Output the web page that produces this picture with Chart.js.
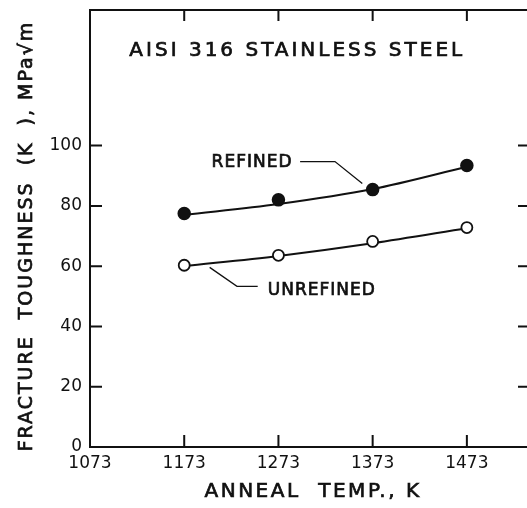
<!DOCTYPE html>
<html>
<head>
<meta charset="utf-8">
<script src="https://cdn.jsdelivr.net/npm/chart.js@4"></script>
<style>
  html, body { margin: 0; padding: 0; background: #fff; overflow: hidden; }
  #wrap { width: 545px; height: 508px; }
</style>
</head>
<body>
<div id="wrap"><canvas id="myChart" width="545" height="508"></canvas></div>
<script>
// anneal temperatures (K)
const temps = [1173, 1273, 1373, 1473];
// measured toughness, MPa√m
const refined = [77.5, 82, 85.4, 93.4];
const unrefined = [60.3, 63.6, 68.2, 72.8];
// smooth fitted curves through the data
const refinedFit = [77, 80.6, 85.6, 93];
const unrefinedFit = [60, 63.4, 67.6, 72.6];
// axis ticks
const xTicks = [1073, 1173, 1273, 1373, 1473];
const yTicks = [0, 20, 40, 60, 80, 100];
const yInner = [20, 40, 60, 80, 100];

const FONT = "'DejaVu Sans', sans-serif";

const toXY = (xs, ys) => xs.map((x, i) => ({ x: x, y: ys[i] }));

// lettering with a slightly heavier pen
function letter(ctx, text, x, y) {
  ctx.fillText(text, x, y);
  ctx.strokeText(text, x, y);
}

// frame, inward ticks, labels and leader lines
const decor = {
  id: 'decor',
  afterDraw(chart) {
    const ctx = chart.ctx;
    const a = chart.chartArea;
    const sx = chart.scales.x, sy = chart.scales.y;
    const px = v => sx.getPixelForValue(v);
    const py = v => sy.getPixelForValue(v);
    ctx.save();
    ctx.strokeStyle = '#111';
    ctx.lineWidth = 2;
    ctx.strokeRect(a.left, a.top, a.right - a.left, a.bottom - a.top);

    ctx.beginPath();
    yInner.forEach(v => {
      ctx.moveTo(a.left, py(v)); ctx.lineTo(a.left + 12, py(v));
      ctx.moveTo(a.right, py(v)); ctx.lineTo(a.right - 12, py(v));
    });
    xTicks.slice(1).forEach(v => {
      ctx.moveTo(px(v), a.bottom); ctx.lineTo(px(v), a.bottom - 12);
      ctx.moveTo(px(v), a.top); ctx.lineTo(px(v), a.top + 11);
    });
    ctx.stroke();

    // leader lines
    ctx.lineWidth = 1.3;
    ctx.beginPath();
    ctx.moveTo(px(1296), py(94.7)); ctx.lineTo(px(1333), py(94.7)); ctx.lineTo(px(1362), py(87.4));
    ctx.moveTo(px(1200), py(59.6)); ctx.lineTo(px(1229), py(53.3)); ctx.lineTo(px(1251), py(53.3));
    ctx.stroke();

    ctx.fillStyle = '#111';
    ctx.lineWidth = 0.7;
    ctx.textBaseline = 'middle';
    ctx.textAlign = 'center';
    ctx.letterSpacing = '3px';
    ctx.font = '20px ' + FONT;
    letter(ctx, 'AISI 316 STAINLESS STEEL', px(1293), py(131.5));
    ctx.letterSpacing = '1px';
    ctx.font = '17px ' + FONT;
    letter(ctx, 'REFINED', px(1245), py(94.4));
    letter(ctx, 'UNREFINED', px(1319), py(52));

    ctx.letterSpacing = '2.5px';
    ctx.font = '20px ' + FONT;
    letter(ctx, 'ANNEAL  TEMP., K', 313, 492);

    ctx.translate(27, 236);
    ctx.rotate(-Math.PI / 2);
    ctx.letterSpacing = '2px';
    ctx.font = '19px ' + FONT;
    letter(ctx, 'FRACTURE  TOUGHNESS  (K  ), MPa√m', 0, 0);
    ctx.restore();
  }
};

new Chart(document.getElementById('myChart').getContext('2d'), {
  type: 'line',
  data: {
    datasets: [
      {
        data: toXY(temps, refined),
        showLine: false,
        pointRadius: 6,
        pointBackgroundColor: '#111',
        pointBorderColor: '#111',
        pointBorderWidth: 1.5,
        order: 0
      },
      {
        data: toXY(temps, unrefined),
        showLine: false,
        pointRadius: 5.5,
        pointBackgroundColor: '#fff',
        pointBorderColor: '#111',
        pointBorderWidth: 1.8,
        order: 0
      },
      {
        data: toXY(temps, refinedFit),
        borderColor: '#111',
        borderWidth: 2,
        pointRadius: 0,
        cubicInterpolationMode: 'monotone',
        order: 1
      },
      {
        data: toXY(temps, unrefinedFit),
        borderColor: '#111',
        borderWidth: 2,
        pointRadius: 0,
        cubicInterpolationMode: 'monotone',
        order: 1
      }
    ]
  },
  options: {
    responsive: false,
    animation: false,
    layout: { padding: { top: 10, right: 15, left: 0, bottom: 0 } },
    plugins: { legend: { display: false }, tooltip: { enabled: false } },
    scales: {
      x: {
        type: 'linear',
        min: 1073,
        max: 1540,
        afterBuildTicks: s => { s.ticks = xTicks.map(v => ({ value: v })); },
        afterFit: s => { s.height = 61; s.paddingLeft = 0; s.paddingRight = 0; },
        grid: { display: false, drawTicks: false },
        border: { display: false },
        ticks: {
          padding: 6,
          color: '#111',
          font: { family: FONT, size: 17 },
          maxRotation: 0,
          autoSkip: false,
          callback: v => String(v)
        }
      },
      y: {
        min: 0,
        max: 145,
        afterBuildTicks: s => { s.ticks = yTicks.map(v => ({ value: v })); },
        afterFit: s => { s.width = 90; s.paddingTop = 0; s.paddingBottom = 0; },
        grid: { display: false, drawTicks: false },
        border: { display: false },
        ticks: {
          padding: 8,
          color: '#111',
          font: { family: FONT, size: 17 },
          callback: v => String(v)
        }
      }
    }
  },
  plugins: [decor]
});
</script>
</body>
</html>
